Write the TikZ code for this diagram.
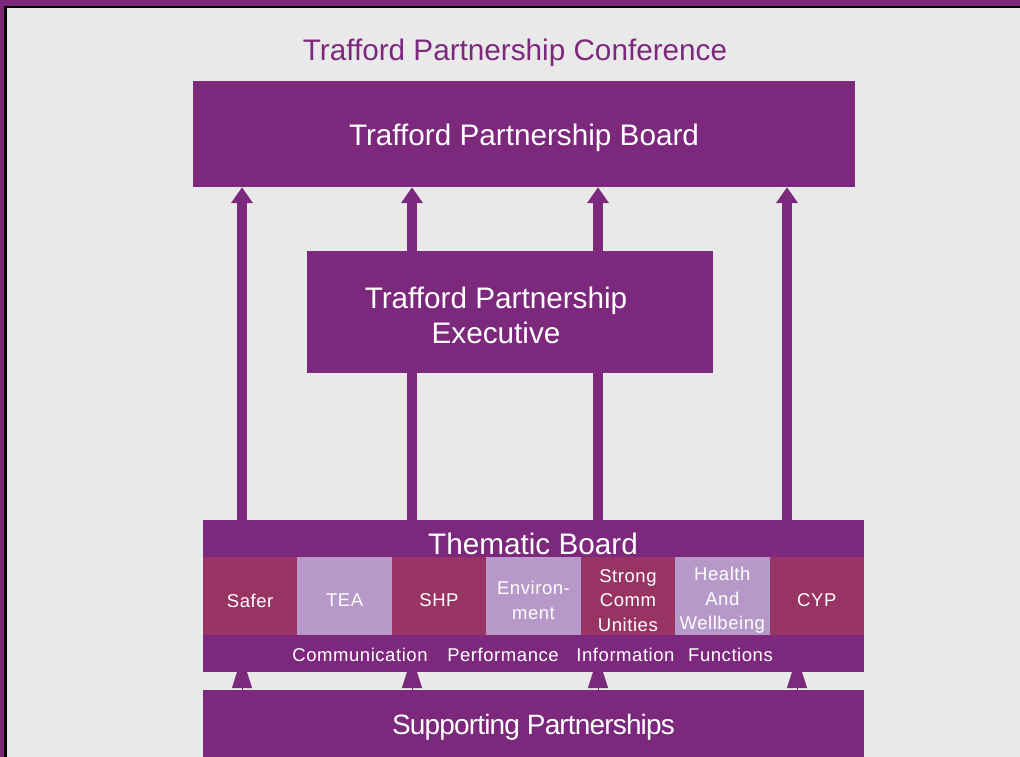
\documentclass[tikz,border=0pt]{standalone}
\usepackage{fontspec}
\setmainfont{Liberation Sans}
\newfontfamily\cellfont[LetterSpace=3]{Liberation Sans}
\newfontfamily\suppfont[LetterSpace=-3]{Liberation Sans}
\usetikzlibrary{arrows.meta}
\definecolor{tpurple}{HTML}{7C287C}
\definecolor{tpink}{HTML}{983463}
\definecolor{tlilac}{HTML}{B699C8}
\definecolor{tbg}{HTML}{E9E9E9}
\begin{document}
\begin{tikzpicture}[x=1pt,y=-1pt,
  bigtext/.style={font=\fontsize{29.7}{35.5}\selectfont},
  box/.style={fill=tpurple, inner sep=0pt},
  boxtext/.style={text=white, inner sep=0pt, align=center, bigtext},
  cell/.style={minimum width=94.43pt, minimum height=78pt, inner sep=0pt},
  celltext/.style={text=white, inner sep=0pt, align=center, yshift=-4.5pt,
    font=\cellfont\fontsize{18.5}{24.5}\selectfont},
  darkcell/.style={cell, fill=tpink},
  lightcell/.style={cell, fill=tlilac},
  bandtext/.style={text=white, inner sep=0pt, font=\cellfont\fontsize{18.5}{24.5}\selectfont},
  uparrow/.style={draw=tpurple, line width=10.5pt,
    -{Triangle[width=21pt,length=16pt]}},
  feedarrow/.style={draw=tpurple, line width=1pt, shorten >=-16pt,
    -{Triangle[width=20pt,length=32pt]}}
]
\useasboundingbox (0,0) rectangle (1020,757);
% page background and frame
\fill[tbg] (0,0) rectangle (1020,757);
\fill[tpurple] (0,0) rectangle (1020,6);
\fill[tpurple] (0,0) rectangle (4,757);
\fill[black] (4,6) rectangle (1020,8);
\fill[black] (4,6) rectangle (7,757);

% title
\node[text=tpurple, inner sep=0pt, bigtext] (title) at (515,53) {Trafford Partnership Conference};

% partnership board
\node[box, minimum width=662pt, minimum height=106pt,
  label={[boxtext, yshift=-4pt]center:Trafford Partnership Board}] (board) at (524,134) {};

% arrow columns
\coordinate (c1) at (242,0);
\coordinate (c2) at (412,0);
\coordinate (c3) at (598,0);
\coordinate (c4) at (787,0);
\coordinate (d1) at (242,0);
\coordinate (d2) at (412,0);
\coordinate (d3) at (598,0);
\coordinate (d4) at (797,0);

% supporting partnerships
\node[box, minimum width=661pt, minimum height=68pt,
  label={[text=white, inner sep=0pt, yshift=-3pt, font=\suppfont\fontsize{28}{33}\selectfont]center:Supporting Partnerships}]
  (supp) at (533.5,724) {};

% thematic board outline
\path (533.5,596) node[minimum width=661pt, minimum height=152pt, inner sep=0pt] (thematic) {};

% arrows up to the board
\foreach \c in {c1,c2,c3,c4}
  \draw[uparrow] (thematic.north -| \c) -- (board.south -| \c);
% arrows from supporting partnerships
\foreach \d in {d1,d2,d3,d4}
  \draw[feedarrow] (supp.north -| \d) -- (thematic.south -| \d);

% thematic board
\fill[tpurple] (thematic.north west) rectangle (thematic.south east);
\node[text=white, inner sep=0pt, bigtext] (thtitle) at (533,544) {Thematic Board};

\node[darkcell,  label={[celltext]center:Safer}] (safer) at (250.2,596) {};
\node[lightcell, label={[celltext]center:TEA}] (tea) at (344.6,596) {};
\node[darkcell,  label={[celltext]center:SHP}] (shp) at (439.0,596) {};
\node[lightcell, label={[celltext]center:Environ-\\ment}] (env) at (533.5,596) {};
\node[darkcell,  label={[celltext]center:Strong\\Comm\\Unities}] (strong) at (627.9,596) {};
\node[lightcell, label={[celltext]center:Health\\And\\Wellbeing}] (health) at (722.3,596) {};
\node[darkcell,  label={[celltext]center:CYP}] (cyp) at (816.8,596) {};

\node[bandtext] (comm) at (360,655) {Communication};
\node[bandtext] (perf) at (503,655) {Performance};
\node[bandtext] (info) at (625.5,655) {Information};
\node[bandtext] (func) at (730.5,655) {Functions};

% partnership executive
\node[box, minimum width=406pt, minimum height=122pt,
  label={[boxtext, xshift=-14pt, yshift=-3.5pt]center:Trafford Partnership\\Executive}] (exec) at (510,312) {};
\end{tikzpicture}
\end{document}
